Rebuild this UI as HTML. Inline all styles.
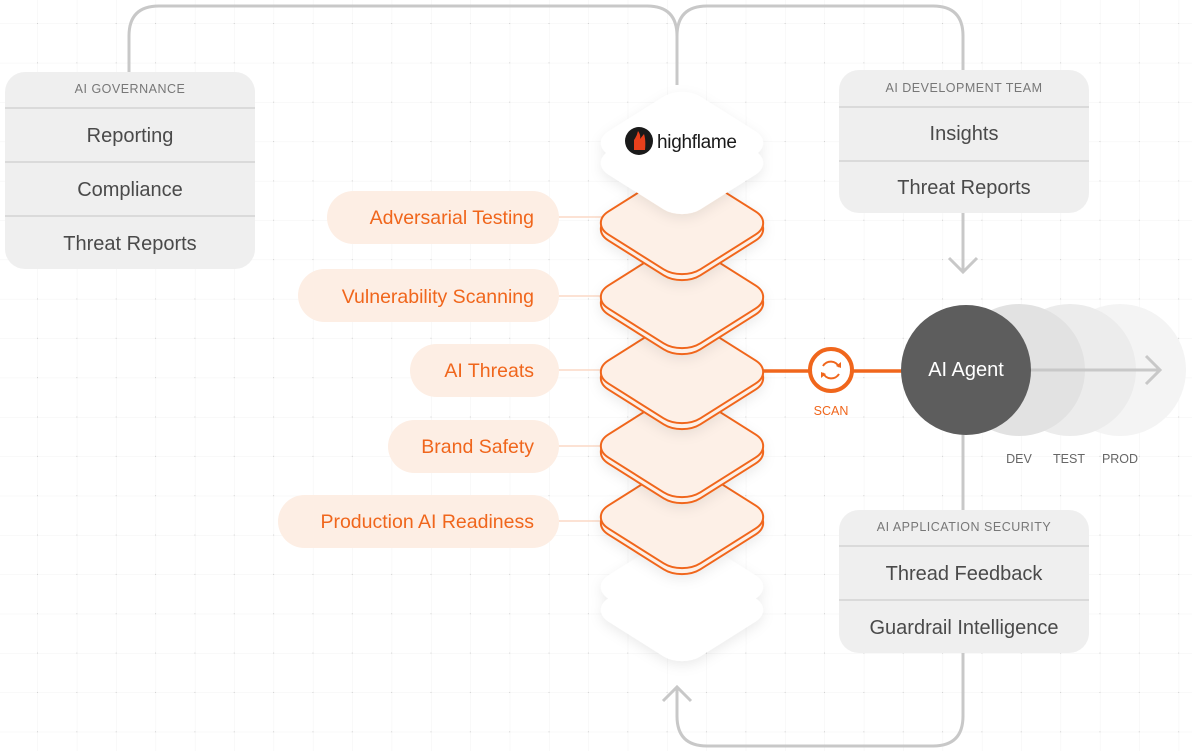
<!DOCTYPE html>
<html><head><meta charset="utf-8"><style>
html,body{margin:0;padding:0;background:#fff;}
svg{display:block;font-family:"Liberation Sans",Arial,sans-serif;}
</style></head><body>
<svg width="1192" height="751" viewBox="0 0 1192 751" xmlns="http://www.w3.org/2000/svg">
<defs>
<pattern id="grid" x="-1.35" y="-15.35" width="39.35" height="39.35" patternUnits="userSpaceOnUse">
<path d="M39.35 0V39.35M0 39.35H39.35" stroke="#f3f3f3" stroke-width="1"/>
<rect x="38.35" y="38.35" width="2" height="2" fill="#d0d0d0"/>
</pattern>
<filter id="sh" x="-30%" y="-30%" width="160%" height="160%"><feDropShadow dx="0" dy="4" stdDeviation="6" flood-color="#000" flood-opacity="0.08"/></filter>
<g id="dia"><rect x="-65" y="-65" width="130" height="130" rx="26" transform="scale(1,0.63) rotate(45)" vector-effect="non-scaling-stroke"/></g>
</defs>
<rect width="1192" height="751" fill="url(#grid)"/>

<g fill="none" stroke="#c8c8c8" stroke-width="3">
<path d="M129 72V36Q129 6 159 6H647Q677 6 677 36V85"/>
<path d="M963 70V36Q963 6 933 6H707Q677 6 677 36"/>
<path d="M963 213V272M949 258L963 272L977 258"/>
<path d="M963 430V510"/>
<path d="M963 653V716Q963 746 933 746H707Q677 746 677 716V688M663 701L677 687L691 701"/>
</g>

<g>
<rect x="5" y="72" width="250" height="197" rx="20" fill="#efefef"/>
<path d="M5 108H255M5 162H255M5 216H255" stroke="#dadada" stroke-width="2"/>
<text x="130" y="93" font-size="12.5" fill="#777" text-anchor="middle" letter-spacing="0.5">AI GOVERNANCE</text>
<text x="130" y="142" font-size="20" fill="#4a4a4a" text-anchor="middle">Reporting</text>
<text x="130" y="196" font-size="20" fill="#4a4a4a" text-anchor="middle">Compliance</text>
<text x="130" y="250" font-size="20" fill="#4a4a4a" text-anchor="middle">Threat Reports</text>

<rect x="839" y="70" width="250" height="143" rx="20" fill="#efefef"/>
<path d="M839 107H1089M839 161H1089" stroke="#dadada" stroke-width="2"/>
<text x="964" y="92" font-size="12.5" fill="#777" text-anchor="middle" letter-spacing="0.5">AI DEVELOPMENT TEAM</text>
<text x="964" y="140" font-size="20" fill="#4a4a4a" text-anchor="middle">Insights</text>
<text x="964" y="194" font-size="20" fill="#4a4a4a" text-anchor="middle">Threat Reports</text>

<rect x="839" y="510" width="250" height="143" rx="20" fill="#efefef"/>
<path d="M839 546H1089M839 600H1089" stroke="#dadada" stroke-width="2"/>
<text x="964" y="531" font-size="12.5" fill="#777" text-anchor="middle" letter-spacing="0.5">AI APPLICATION SECURITY</text>
<text x="964" y="580" font-size="20" fill="#4a4a4a" text-anchor="middle">Thread Feedback</text>
<text x="964" y="634" font-size="20" fill="#4a4a4a" text-anchor="middle">Guardrail Intelligence</text>
</g>

<g stroke="#fbd9c6" stroke-width="1.5">
<path d="M558 217H610M558 296H610M558 370H610M558 446H610M558 521H610"/>
</g>
<g fill="#fdeee4">
<rect x="327" y="191" width="232" height="53" rx="26.5"/>
<rect x="298" y="269" width="261" height="53" rx="26.5"/>
<rect x="410" y="344" width="149" height="53" rx="26.5"/>
<rect x="388" y="420" width="171" height="53" rx="26.5"/>
<rect x="278" y="495" width="281" height="53" rx="26.5"/>
</g>
<g fill="#f0661c" font-size="19.5" text-anchor="end">
<text x="534" y="224">Adversarial Testing</text>
<text x="534" y="303">Vulnerability Scanning</text>
<text x="534" y="377">AI Threats</text>
<text x="534" y="453">Brand Safety</text>
<text x="534" y="528">Production AI Readiness</text>
</g>

<g fill="#fff" filter="url(#sh)">
<use href="#dia" x="682" y="610"/>
<use href="#dia" x="682" y="587"/>
</g>
<g fill="#fdf0e7" stroke="#f0661c" stroke-width="2">
<g filter="url(#sh)"><use href="#dia" x="682" y="523"/><use href="#dia" x="682" y="517"/></g>
<g filter="url(#sh)"><use href="#dia" x="682" y="452"/><use href="#dia" x="682" y="446"/></g>
<g filter="url(#sh)"><use href="#dia" x="682" y="378"/><use href="#dia" x="682" y="372"/></g>
<g filter="url(#sh)"><use href="#dia" x="682" y="303"/><use href="#dia" x="682" y="297"/></g>
<g filter="url(#sh)"><use href="#dia" x="682" y="229"/><use href="#dia" x="682" y="223"/></g>
</g>
<g fill="#fff" filter="url(#sh)">
<use href="#dia" x="682" y="163"/>
<use href="#dia" x="682" y="143"/>
</g>
<circle cx="639" cy="141" r="14" fill="#1a1a1a"/>
<path d="M634 150L634 140Q637 136 638 131Q641 135 640 139L644 134Q646 140 645 150Z" fill="#e8401c"/>
<text x="657" y="148" font-size="19" fill="#1a1a1a" letter-spacing="-0.3">highflame</text>

<path d="M763 371H905" stroke="#f0661c" stroke-width="3.5"/>
<circle cx="831" cy="370" r="21" fill="#fff" stroke="#f0661c" stroke-width="4"/>
<g fill="none" stroke="#f0661c" stroke-width="2">
<path d="M823 366A9 9 0 0 1 839 367"/><path d="M839 374A9 9 0 0 1 823 373"/>
</g>
<path d="M836 366L841 368L841 362Z M826 374L821 372L821 378Z" fill="#f0661c"/>
<text x="831" y="415" font-size="12.5" fill="#f0661c" text-anchor="middle">SCAN</text>

<circle cx="1120" cy="370" r="66" fill="#f4f4f4"/>
<circle cx="1070" cy="370" r="66" fill="#ececec"/>
<circle cx="1019" cy="370" r="66" fill="#e2e2e2"/>
<path d="M1030 370H1160M1146 356L1160 370L1146 384" fill="none" stroke="#c8c8c8" stroke-width="3"/>
<circle cx="966" cy="370" r="65" fill="#5d5d5d"/>
<text x="966" y="376" font-size="20" fill="#fff" text-anchor="middle">AI Agent</text>
<g font-size="12.5" fill="#666" text-anchor="middle">
<text x="1019" y="463">DEV</text><text x="1069" y="463">TEST</text><text x="1120" y="463">PROD</text>
</g>
</svg>
</body></html>
